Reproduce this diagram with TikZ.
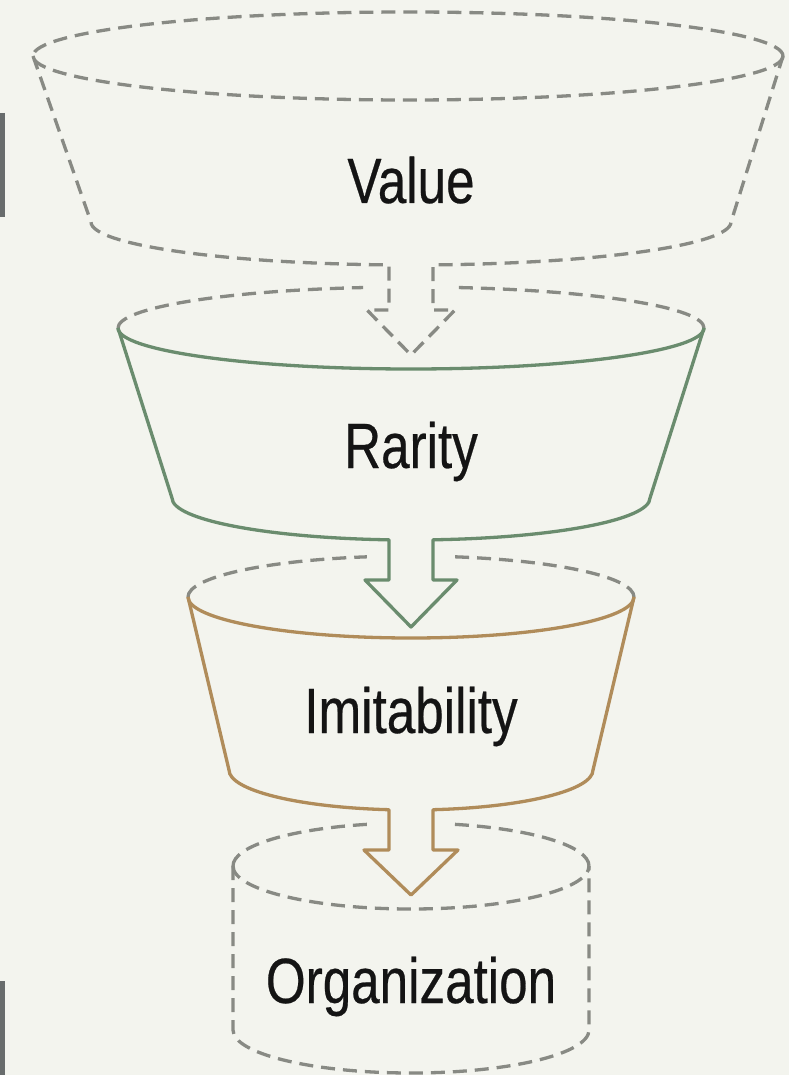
\documentclass[tikz,border=0pt]{standalone}
\usepackage{fontspec}
\setmainfont{Liberation Sans}[FakeStretch=0.8,FakeBold=0.4]
\definecolor{paper}{RGB}{243,244,238}
\definecolor{vrgray}{RGB}{136,138,132}
\definecolor{vrgreen}{RGB}{106,140,110}
\definecolor{vrtan}{RGB}{176,140,90}
\definecolor{vrink}{RGB}{20,20,20}
\definecolor{vrbar}{RGB}{104,108,108}

\begin{document}
\begin{tikzpicture}[x=1pt,y=-1pt,line join=round,
  dashline/.style={vrgray,line width=3.3pt,dash pattern=on 14pt off 8pt},
  greenline/.style={vrgreen,line width=3.3pt},
  tanline/.style={vrtan,line width=3.3pt},
  stagetext/.style={font=\fontsize{64}{70}\selectfont,text=vrink,anchor=base,inner sep=0pt}]
  \fill[paper] (0,0) rectangle (789,1075);
  \useasboundingbox (0,0) rectangle (789,1075);
  \draw[vrbar,line width=5pt] (2.5,113) -- (2.5,217);
  \draw[vrbar,line width=5pt] (2.5,981) -- (2.5,1075);

  % Value
  \draw[dashline] (408,56) ellipse [x radius=375, y radius=44];
  \draw[dashline] (33,56) -- (91,222)
    arc [start angle=180, end angle={acos(-22/320)}, x radius=320, y radius=43]
    -- (389,310) -- (367,310) -- (411,355) -- (455,310) -- (433,310) -- (433,264.9)
    arc [start angle={acos(22/320)}, end angle=0, x radius=320, y radius=43]
    -- (783,56);
  \node[stagetext] (value) at (411,203) {Value};

  % Rarity
  \draw[dashline] (118,328) arc [start angle=180, end angle=260.6, x radius=293, y radius=41];
  \draw[dashline] (411,328) ++(279.4:293 and 41) arc [start angle=279.4, end angle=360, x radius=293, y radius=41];
  \draw[greenline] (118,328) arc [start angle=180, end angle=0, x radius=293, y radius=41];
  \draw[greenline] (118,328) -- (172,498)
    arc [start angle=180, end angle={acos(-22/239)}, x radius=239, y radius=42]
    -- (389,580) -- (365,580) -- (411,627) -- (457,580) -- (433,580) -- (433,539.8)
    arc [start angle={acos(22/239)}, end angle=0, x radius=239, y radius=42]
    -- (704,328);
  \node[stagetext] (rarity) at (411,468) {Rarity};

  % Imitability
  \draw[dashline] (188,597) arc [start angle=180, end angle=258.6, x radius=223, y radius=41];
  \draw[dashline] (411,597) ++(281.4:223 and 41) arc [start angle=281.4, end angle=360, x radius=223, y radius=41];
  \draw[tanline] (188,597) arc [start angle=180, end angle=0, x radius=223, y radius=41];
  \draw[tanline] (188,597) -- (229,770)
    arc [start angle=180, end angle={acos(-22/182)}, x radius=182, y radius=40]
    -- (389,850) -- (364,850) -- (411,895) -- (458,850) -- (433,850) -- (433,809.7)
    arc [start angle={acos(22/182)}, end angle=0, x radius=182, y radius=40]
    -- (634,597);
  \node[stagetext] (imitability) at (411,733) {Imitability};

  % Organization
  \draw[dashline] (233,866) arc [start angle=180, end angle=255.7, x radius=178, y radius=43];
  \draw[dashline] (411,866) ++(284.3:178 and 43) arc [start angle=284.3, end angle=360, x radius=178, y radius=43];
  \draw[dashline] (233,866) arc [start angle=180, end angle=0, x radius=178, y radius=43];
  \draw[dashline] (233,866) -- (233,1030)
    arc [start angle=180, end angle=0, x radius=178, y radius=43]
    -- (589,866);
  \node[stagetext] (organization) at (411,1003) {Organization};
\end{tikzpicture}
\end{document}
